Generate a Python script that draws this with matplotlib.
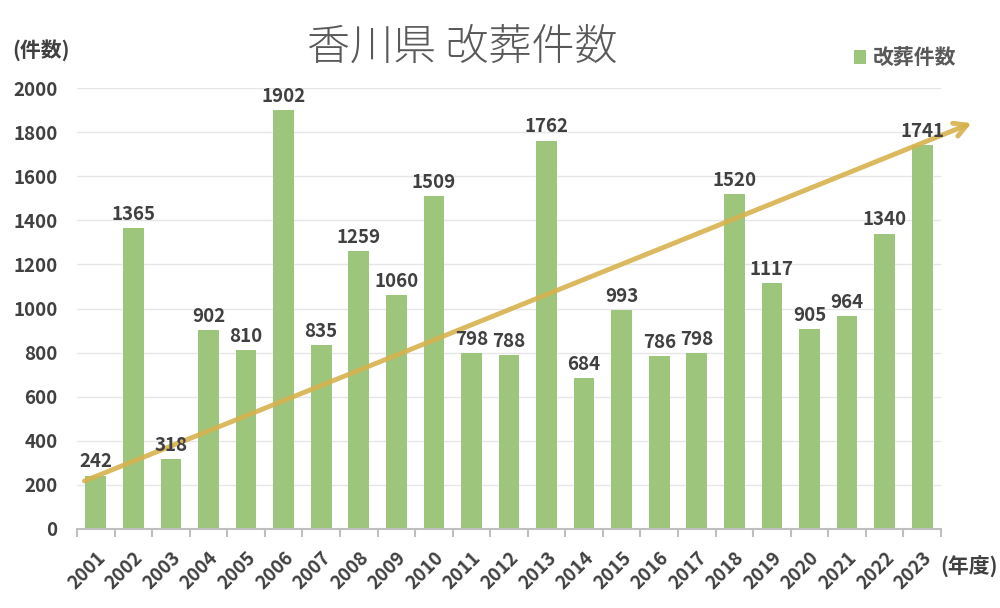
import numpy as np
import matplotlib.pyplot as plt
from matplotlib.ticker import MultipleLocator

plt.rcParams['font.family'] = ['Noto Sans CJK JP', 'DejaVu Sans']

years = [str(y) for y in range(2001, 2024)]
counts = [242, 1365, 318, 902, 810, 1902, 835, 1259, 1060, 1509, 798, 788,
          1762, 684, 993, 786, 798, 1520, 1117, 905, 964, 1340, 1741]

# trend arrow end points (category index, value)
trend_x = [-0.37, 23.38]
trend_y = [213, 1846]

bar_color = '#9DC57C'
text_color = '#404040'

fig = plt.figure(figsize=(10, 6.08), dpi=100)
ax = fig.add_axes([0.077, 0.13, 0.864, 0.725])

x = np.arange(len(years))
ax.bar(x, counts, width=0.55, color=bar_color, zorder=2, label='改葬件数')

for xi, v in zip(x, counts):
    ax.annotate(str(v), (xi, v), xytext=(0, 3), textcoords='offset points',
                ha='center', va='bottom', fontsize=13.5, fontweight='bold',
                color=text_color, zorder=4)

ax.annotate('', xy=(trend_x[1], trend_y[1]), xytext=(trend_x[0], trend_y[0]),
            arrowprops=dict(arrowstyle='->,head_length=0.9,head_width=0.5',
                            color='#D6B24E', lw=3.5, alpha=0.9),
            annotation_clip=False, zorder=3)

ax.set_xlim(-0.5, len(years) - 0.5)
ax.set_ylim(0, 2000)
ax.yaxis.set_major_locator(MultipleLocator(200))
ax.grid(axis='y', color='#E6E6E6', lw=1, zorder=0)
ax.set_axisbelow(True)

ax.set_xticks(x)
ax.set_xticklabels(years, rotation=45, ha='right', rotation_mode='anchor',
                   fontsize=13.5, fontweight='bold', color=text_color)
ax.set_xticks(np.arange(-0.5, len(years)), minor=True)
ax.tick_params(axis='x', which='major', length=0, pad=14)
ax.tick_params(axis='x', which='minor', length=6, color='#BFBFBF', width=1.5)
ax.tick_params(axis='y', length=0, pad=14, labelsize=13.5, labelcolor=text_color)
for lab in ax.get_yticklabels():
    lab.set_fontweight('bold')

for s in ['top', 'right', 'left']:
    ax.spines[s].set_visible(False)
ax.spines['bottom'].set_color('#BFBFBF')
ax.spines['bottom'].set_linewidth(1.5)

fig.text(0.462, 0.922, '香川県 改葬件数', ha='center', va='center',
         fontsize=31, color='#595959', fontweight='light')
fig.text(0.012, 0.918, '(件数)', ha='left', va='center', fontsize=15,
         fontweight='bold', color=text_color)
fig.text(0.94, 0.068, '(年度)', ha='left', va='center', fontsize=15,
         fontweight='bold', color=text_color)

leg = fig.legend(loc='center', bbox_to_anchor=(0.905, 0.905), frameon=False,
                 handlelength=0.6, handleheight=0.6, handletextpad=0.3,
                 prop={'size': 15, 'weight': 'bold'})
for t in leg.get_texts():
    t.set_color('#595959')

fig.savefig('out.png', dpi=100)
